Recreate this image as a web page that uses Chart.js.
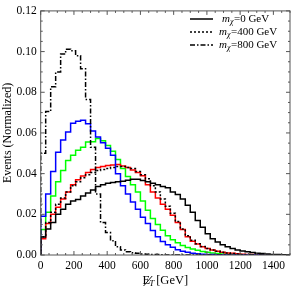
<!DOCTYPE html>
<html>
<head>
<meta charset="utf-8">
<script src="https://cdn.jsdelivr.net/npm/chart.js@4.4.1/dist/chart.umd.min.js"></script>
<style>
  html, body { margin: 0; padding: 0; background: #fff; }
  #wrap { width: 291px; height: 289px; }
</style>
</head>
<body>
<div id="wrap"><canvas id="metChart"></canvas></div>
<script>
// histograms of missing E_T, 30 GeV bins starting at 0
const binWidth = 30;
const xTicks = [0, 200, 400, 600, 800, 1000, 1200, 1400];
const yTicks = [0, 0.02, 0.04, 0.06, 0.08, 0.10, 0.12];

const legendMass = ['0 GeV', '400 GeV', '800 GeV'];

// black curves (m_chi = 0 / 400 / 800 GeV)
const mchi0 = [0.002, 0.0088, 0.0128, 0.016, 0.020, 0.0225, 0.025, 0.0265, 0.0273, 0.029,
  0.0305, 0.032, 0.0337, 0.0345, 0.0353, 0.0357, 0.036, 0.0362, 0.0368, 0.0372,
  0.0372, 0.0366, 0.036, 0.0353, 0.0345, 0.0337, 0.033, 0.031, 0.0297, 0.0275,
  0.0245, 0.021, 0.017, 0.0137, 0.0105, 0.008, 0.0064, 0.005, 0.004, 0.0032,
  0.0025, 0.002, 0.0016, 0.0012, 0.0009, 0.0007, 0.0005, 0.0003, 0.0002, 0.0001];
const mchi400 = [0.003, 0.009, 0.016, 0.021, 0.025, 0.028, 0.031, 0.034, 0.036, 0.038,
  0.0395, 0.0405, 0.0415, 0.042, 0.0425, 0.043, 0.0435, 0.0435, 0.043, 0.0425,
  0.041, 0.0395, 0.0375, 0.034, 0.031, 0.0275, 0.024, 0.0205, 0.0165, 0.0128,
  0.0095, 0.0072, 0.0055, 0.0042, 0.0032, 0.0024, 0.0018, 0.0013, 0.001, 0.0007,
  0.0005, 0.0003, 0.0002, 0.0001, 0, 0, 0, 0, 0, 0];
const mchi800 = [0.020, 0.050, 0.0705, 0.0827, 0.090, 0.0988, 0.1012, 0.1004, 0.098, 0.0916,
  0.0765, 0.053, 0.030, 0.016, 0.011, 0.007, 0.004, 0.0025, 0.0016, 0.0011,
  0.0008, 0.0005, 0.0004, 0.0003, 0.0002, 0.0001, 0, 0, 0, 0,
  0, 0, 0, 0, 0, 0, 0, 0, 0, 0,
  0, 0, 0, 0, 0, 0, 0, 0, 0, 0];

// coloured curves
const blueVals = [0.007, 0.019, 0.030, 0.041, 0.0505, 0.0565, 0.0605, 0.0648, 0.0657, 0.0663,
  0.0645, 0.061, 0.058, 0.0552, 0.0525, 0.049, 0.040, 0.034, 0.030, 0.026,
  0.0225, 0.0185, 0.0155, 0.012, 0.009, 0.0066, 0.005, 0.0038, 0.0026, 0.0019,
  0.0013, 0.0009, 0.0006, 0.0004, 0.0003, 0.0002, 0.0001, 0.0001, 0, 0,
  0, 0, 0, 0, 0, 0, 0, 0, 0, 0];
const greenVals = [0.0032, 0.0125, 0.021, 0.029, 0.036, 0.0415, 0.0465, 0.049, 0.0515, 0.053,
  0.0555, 0.0557, 0.0573, 0.0562, 0.0538, 0.051, 0.047, 0.0425, 0.0386, 0.0345,
  0.031, 0.0265, 0.022, 0.018, 0.015, 0.0122, 0.0095, 0.0075, 0.006, 0.0047,
  0.0037, 0.003, 0.0023, 0.0017, 0.0013, 0.001, 0.0007, 0.0005, 0.0004, 0.0003,
  0.0002, 0.0001, 0.0001, 0, 0, 0, 0, 0, 0, 0];
const redVals = [0.0026, 0.008, 0.0155, 0.020, 0.0235, 0.0275, 0.031, 0.0345, 0.037, 0.0388,
  0.0405, 0.042, 0.043, 0.0435, 0.044, 0.0443, 0.0445, 0.0438, 0.043, 0.0418,
  0.0405, 0.039, 0.0345, 0.031, 0.028, 0.025, 0.0225, 0.0195, 0.016, 0.0125,
  0.009, 0.0068, 0.0054, 0.004, 0.0032, 0.0024, 0.0018, 0.0014, 0.001, 0.0008,
  0.0006, 0.0004, 0.0003, 0.0002, 0.0001, 0.0001, 0, 0, 0, 0];

const serif = '"Liberation Serif", "DejaVu Serif", serif';

// turn bin contents into step points (rise from zero at the left edge)
function toSteps(vals) {
  const pts = [{ x: 0, y: 0 }];
  vals.forEach((v, i) => pts.push({ x: i * binWidth, y: v }));
  pts.push({ x: vals.length * binWidth, y: vals[vals.length - 1] });
  return pts;
}

function histSet(label, vals, color, dash) {
  return {
    label: label,
    data: toSteps(vals),
    borderColor: color,
    borderWidth: 1.5,
    borderDash: dash,
    stepped: 'after',
    pointRadius: 0,
    fill: false
  };
}

// frame with inward ticks on all four sides
const framePlugin = {
  id: 'frame',
  afterDraw(chart) {
    const { ctx, chartArea: a, scales } = chart;
    const xs = scales.x, ys = scales.y;
    ctx.save();
    ctx.strokeStyle = '#555';
    ctx.lineWidth = 1;
    ctx.strokeRect(a.left, a.top, a.right - a.left, a.bottom - a.top);
    ctx.beginPath();
    for (let v = 0; v <= xs.max + 1e-9; v += 50) {
      const px = xs.getPixelForValue(v);
      const len = v % 200 === 0 ? 4 : 2;
      ctx.moveTo(px, a.bottom); ctx.lineTo(px, a.bottom - len);
      ctx.moveTo(px, a.top); ctx.lineTo(px, a.top + len);
    }
    for (let k = 0; k <= 24; k++) {
      const py = ys.getPixelForValue(k * 0.005);
      const len = k % 4 === 0 ? 4 : 2;
      ctx.moveTo(a.left, py); ctx.lineTo(a.left + len, py);
      ctx.moveTo(a.right, py); ctx.lineTo(a.right - len, py);
    }
    ctx.stroke();

    // axis titles
    ctx.fillStyle = '#000';
    ctx.font = '12px ' + serif;
    ctx.textBaseline = 'middle';
    ctx.save();
    ctx.translate(8, (a.top + a.bottom) / 2);
    ctx.rotate(-Math.PI / 2);
    ctx.textAlign = 'center';
    ctx.fillText('Events (Normalized)', 0, 0);
    ctx.restore();

    // slashed E_T [GeV]
    ctx.textAlign = 'left';
    const fBig = '12.5px ' + serif, fSub = 'italic 9px ' + serif;
    ctx.font = fBig;
    const wE = ctx.measureText('E').width;
    const wG = ctx.measureText('[GeV]').width;
    ctx.font = fSub;
    const wT = ctx.measureText('T').width;
    const total = wE + wT + 1 + wG;
    let x0 = (a.left + a.right) / 2 - total / 2;
    const yT = 281;
    ctx.font = fBig;
    ctx.fillText('E', x0, yT);
    ctx.beginPath();
    ctx.lineWidth = 0.9;
    ctx.strokeStyle = '#000';
    ctx.moveTo(x0 + 1, yT + 5);
    ctx.lineTo(x0 + wE + 2, yT - 5);
    ctx.stroke();
    ctx.font = fSub;
    ctx.fillText('T', x0 + wE - 1, yT + 3);
    ctx.font = fBig;
    ctx.fillText('[GeV]', x0 + wE + wT + 1, yT);

    // legend for the three black curves
    const rowsY = [19, 32, 45];
    chart.data.datasets.slice(0, 3).forEach((ds, i) => {
      const y = rowsY[i];
      ctx.beginPath();
      ctx.strokeStyle = ds.borderColor;
      ctx.lineWidth = 1.5;
      ctx.setLineDash(ds.borderDash || []);
      ctx.moveTo(190, y); ctx.lineTo(213, y);
      ctx.stroke();
      ctx.setLineDash([]);
      let tx = i === 0 ? 222 : 219;
      ctx.fillStyle = '#000';
      ctx.font = 'italic 11px ' + serif;
      ctx.fillText('m', tx, y);
      tx += ctx.measureText('m').width;
      ctx.font = 'italic 8px ' + serif;
      ctx.fillText('\u03c7', tx, y + 3);
      tx += ctx.measureText('\u03c7').width + 0.5;
      ctx.font = '11px ' + serif;
      ctx.fillText('=' + legendMass[i], tx, y);
    });
    ctx.restore();
  }
};

const ctx = document.getElementById('metChart').getContext('2d');
const metChart = new Chart(ctx, {
  type: 'line',
  data: {
    datasets: [
      histSet('m0', mchi0, '#000', []),
      histSet('m400', mchi400, '#000', [2, 2]),
      histSet('m800', mchi800, '#000', [5, 2, 1.5, 2]),
      histSet('blue', blueVals, '#0000ff', []),
      histSet('red', redVals, '#ff0000', []),
      histSet('green', greenVals, '#00ff00', [])
    ]
  },
  options: {
    responsive: true,
    maintainAspectRatio: false,
    animation: false,
    layout: { padding: { top: 6, right: 1, left: 0, bottom: 0 } },
    plugins: { legend: { display: false }, tooltip: { enabled: false } },
    scales: {
      x: {
        type: 'linear',
        min: 0,
        max: 1500,
        grid: { display: false, drawTicks: false },
        border: { display: false },
        afterFit: (s) => { s.height = 34; },
        afterBuildTicks: (s) => { s.ticks = xTicks.map(v => ({ value: v })); },
        ticks: {
          padding: 4,
          maxRotation: 0,
          color: '#000',
          font: { family: serif, size: 11.5 },
          callback: (v) => String(v)
        }
      },
      y: {
        min: 0,
        max: 0.12,
        grid: { display: false, drawTicks: false },
        border: { display: false },
        afterFit: (s) => { s.width = 40.7; },
        afterBuildTicks: (s) => { s.ticks = yTicks.map(v => ({ value: v })); },
        ticks: {
          padding: 4,
          color: '#000',
          font: { family: serif, size: 11.5 },
          callback: (v) => v.toFixed(2)
        }
      }
    }
  },
  plugins: [framePlugin]
});
</script>
</body>
</html>
